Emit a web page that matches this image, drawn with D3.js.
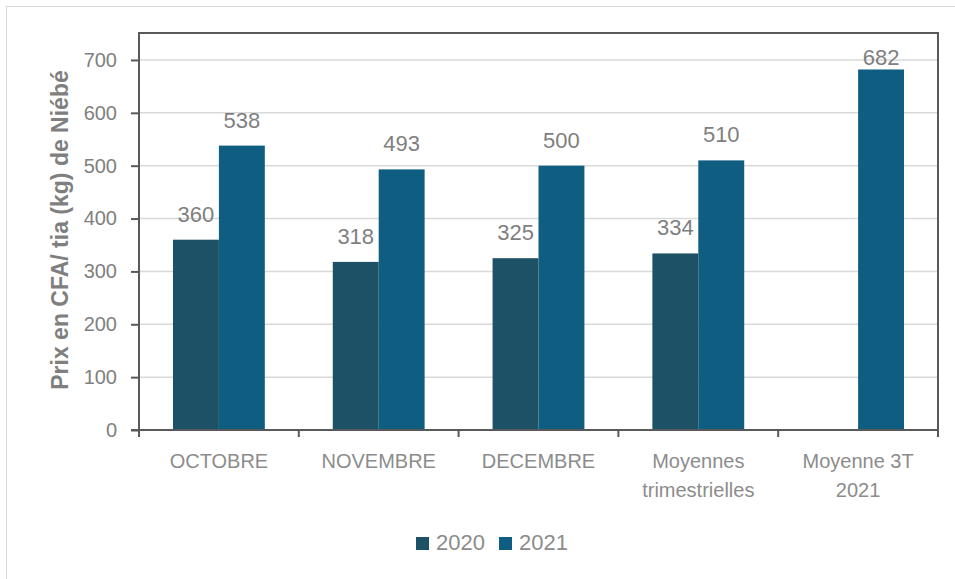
<!DOCTYPE html>
<html>
<head>
<meta charset="utf-8">
<script src="https://cdn.jsdelivr.net/npm/d3@7"></script>
<style>
  body { margin: 0; background: #fff; }
  text { font-family: "Liberation Sans", Arial, sans-serif; }
</style>
</head>
<body>
<div id="vis"></div>
<script>
// data
const categories = [['OCTOBRE'], ['NOVEMBRE'], ['DECEMBRE'], ['Moyennes', 'trimestrielles'], ['Moyenne 3T', '2021']];
const series = ['2020', '2021'];
const values2020 = [360, 318, 325, 334, null];
const values2021 = [538, 493, 500, 510, 682];
const yTicks = [0, 100, 200, 300, 400, 500, 600, 700];
const colors = ['#1d5166', '#0f5e81'];

const W = 955, H = 579;
const margin = {top: 33, right: 17, bottom: 149, left: 139};
const width = W - margin.left - margin.right;
const height = H - margin.top - margin.bottom;

const svg = d3.select('#vis')
    .append('svg')
    .attr('width', W)
    .attr('height', H);

// outer frame
svg.append('rect')
    .attr('x', 6.5).attr('y', 6.5)
    .attr('width', W).attr('height', H)
    .attr('fill', 'none')
    .attr('stroke', '#d9d9d9');

const g = svg.append('g')
    .attr('transform', `translate(${margin.left},${margin.top})`);

const keys = categories.map(c => c.join(' '));

const x = d3.scaleBand()
    .domain(keys)
    .range([0, width])
    .paddingInner(0)
    .paddingOuter(0);

const xs = d3.scaleBand()
    .domain(series)
    .range([0, x.bandwidth()])
    .paddingOuter(0.74)
    .paddingInner(0);

const y = d3.scaleLinear()
    .domain([0, 751])
    .range([height, 0]);

// gridlines
g.selectAll('.grid')
    .data(yTicks.slice(1))
    .enter().append('line')
    .attr('x1', 0).attr('x2', width)
    .attr('y1', d => y(d)).attr('y2', d => y(d))
    .attr('stroke', '#d9d9d9')
    .attr('stroke-width', 1.5);

// bars
const rows = keys.map((k, i) => ({key: k, vals: [values2020[i], values2021[i]]}));
const groups = g.selectAll('.grp')
    .data(rows)
    .enter().append('g')
    .attr('transform', d => `translate(${x(d.key)},0)`);

groups.selectAll('rect')
    .data(d => d.vals.map((v, j) => ({s: series[j], v: v, j: j})).filter(e => e.v != null))
    .enter().append('rect')
    .attr('x', d => xs(d.s))
    .attr('y', d => y(d.v))
    .attr('width', xs.bandwidth())
    .attr('height', d => height - y(d.v))
    .attr('fill', d => colors[d.j]);

groups.selectAll('.lbl')
    .data(d => d.vals.map((v, j) => ({s: series[j], v: v})).filter(e => e.v != null))
    .enter().append('text')
    .attr('x', d => xs(d.s) + xs.bandwidth() / 2)
    .attr('y', d => Math.max(y(d.v) - 18, 32))
    .attr('text-anchor', 'middle')
    .attr('fill', '#7f7f7f')
    .style('font-size', '22px')
    .text(d => d.v);

// axes
const yAxis = g.append('g')
    .call(d3.axisLeft(y).tickValues(yTicks).tickSize(8).tickPadding(14));
yAxis.select('.domain').remove();
yAxis.selectAll('line').attr('stroke', '#595959').attr('stroke-width', 2);
yAxis.selectAll('text').attr('fill', '#808080').style('font-size', '20px');

// x ticks at band boundaries
g.selectAll('.xtick')
    .data(keys.slice(1))
    .enter().append('line')
    .attr('x1', d => x(d)).attr('x2', d => x(d))
    .attr('y1', height).attr('y2', height + 7)
    .attr('stroke', '#595959').attr('stroke-width', 2);

// plot frame
g.append('path')
    .attr('d', `M0,${height + 7}V0H${width}V${height + 7}M-8,${height}H${width}`)
    .attr('fill', 'none')
    .attr('stroke', '#595959')
    .attr('stroke-width', 2);

// category labels
const cl = g.selectAll('.cat')
    .data(categories)
    .enter().append('text')
    .attr('x', (d, i) => x(keys[i]) + x.bandwidth() / 2)
    .attr('y', height + 38)
    .attr('text-anchor', 'middle')
    .attr('fill', '#8c8c8c')
    .style('font-size', '20px');
cl.selectAll('tspan')
    .data(d => d)
    .enter().append('tspan')
    .attr('x', function() { return d3.select(this.parentNode).attr('x'); })
    .attr('dy', (d, i) => i === 0 ? 0 : 29)
    .text(d => d);

// y title
svg.append('text')
    .attr('transform', 'rotate(-90)')
    .attr('x', -230)
    .attr('y', 68)
    .attr('text-anchor', 'middle')
    .attr('fill', '#7f7f7f')
    .style('font-size', '23px')
    .style('font-weight', 'bold')
    .text('Prix en CFA/ tia (kg) de Niébé');

// legend
const legend = svg.append('g')
    .attr('transform', 'translate(416,537)');
const li = legend.selectAll('g')
    .data(series)
    .enter().append('g')
    .attr('transform', (d, i) => `translate(${i * 83},0)`);
li.append('rect')
    .attr('width', 13).attr('height', 13)
    .attr('fill', (d, i) => colors[i]);
li.append('text')
    .attr('x', 20).attr('y', 13)
    .attr('fill', '#8c8c8c')
    .style('font-size', '22px')
    .text(d => d);
</script>
</body>
</html>
